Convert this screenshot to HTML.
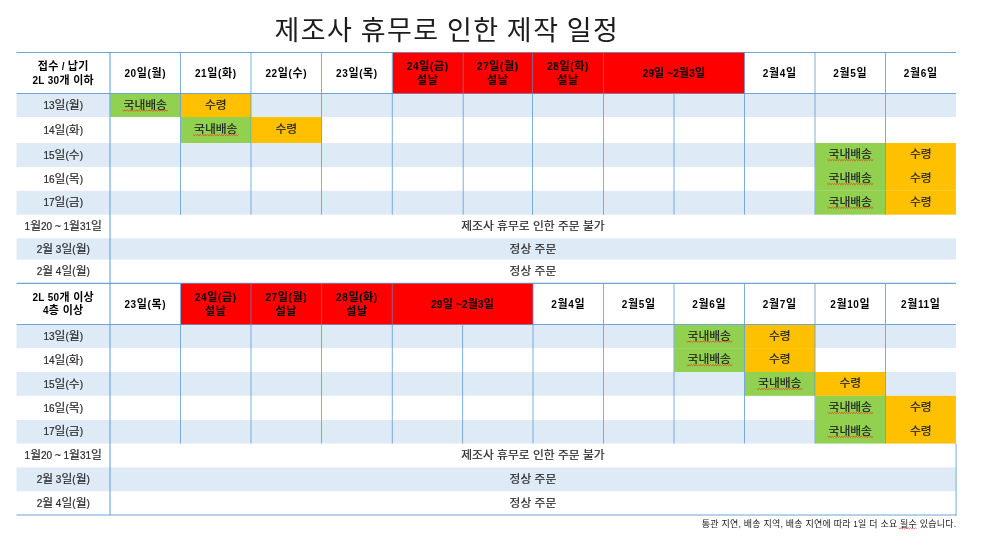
<!DOCTYPE html>
<html lang="ko"><head><meta charset="utf-8"><title>제조사 휴무로 인한 제작 일정</title>
<style>
html,body{margin:0;padding:0;background:#fff;}
body{width:1000px;height:559px;position:relative;overflow:hidden;font-family:"Liberation Sans","Noto Sans CJK KR","NanumGothic",sans-serif;color:#222;}
#pg div{position:absolute;}
#g{position:absolute;left:0;top:0;}
.t{display:flex;align-items:center;justify-content:center;text-align:center;white-space:nowrap;}
.t i{font-style:normal;}
.hdr{font-weight:bold;font-size:11px;line-height:13.7px;color:#000;letter-spacing:.6px;}
.h0{letter-spacing:.3px;}
.hdr span{position:relative;top:.5px;}
.two span{top:.9px;}
.mg{letter-spacing:.15px;}
.hdr i{font-size:10px;}
.lab{font-size:11.8px;color:#2a2a2a;-webkit-text-stroke:.2px #2a2a2a;}
.lab i{font-size:10px;}
.cell{font-size:11.8px;color:#222;-webkit-text-stroke:.2px #222;}
.cell span{position:relative;top:-2.5px;}
.lab span{position:relative;top:-1.9px;}
.sq{text-decoration:underline;text-decoration-color:#e0402a;text-decoration-thickness:1px;text-underline-offset:2px;}
#title{position:absolute;left:274.5px;top:11px;font-size:27px;line-height:40px;letter-spacing:1.45px;word-spacing:-1.6px;color:#1c1c1c;white-space:nowrap;}
#foot{position:absolute;right:43.6px;top:518px;font-size:9px;line-height:12px;letter-spacing:.2px;color:#222;white-space:nowrap;}
#foot i{font-style:normal;font-size:8.2px;}
</style></head><body>
<div id="pg">
<svg id="g" width="1000" height="559" viewBox="0 0 1000 559">
<rect x="16.50" y="94.00" width="939.40" height="23.00" fill="#deeaf6"/>
<rect x="16.50" y="143.00" width="939.40" height="24.00" fill="#deeaf6"/>
<rect x="16.50" y="190.80" width="939.40" height="23.80" fill="#deeaf6"/>
<rect x="16.50" y="238.30" width="939.40" height="21.30" fill="#deeaf6"/>
<rect x="110.30" y="94.00" width="70.20" height="23.00" fill="#92d050"/>
<rect x="180.80" y="94.00" width="70.20" height="23.00" fill="#ffc000"/>
<rect x="180.80" y="117.00" width="70.20" height="26.00" fill="#92d050"/>
<rect x="251.30" y="117.00" width="70.20" height="26.00" fill="#ffc000"/>
<rect x="815.30" y="143.00" width="70.20" height="24.00" fill="#92d050"/>
<rect x="885.80" y="143.00" width="70.10" height="24.00" fill="#ffc000"/>
<rect x="815.30" y="167.00" width="70.20" height="23.80" fill="#92d050"/>
<rect x="885.80" y="167.00" width="70.10" height="23.80" fill="#ffc000"/>
<rect x="815.30" y="190.80" width="70.20" height="23.80" fill="#92d050"/>
<rect x="885.80" y="190.80" width="70.10" height="23.80" fill="#ffc000"/>
<rect x="16.50" y="325.00" width="939.40" height="23.10" fill="#deeaf6"/>
<rect x="16.50" y="372.00" width="939.40" height="23.80" fill="#deeaf6"/>
<rect x="16.50" y="420.00" width="939.40" height="23.50" fill="#deeaf6"/>
<rect x="16.50" y="467.40" width="939.40" height="23.90" fill="#deeaf6"/>
<rect x="674.30" y="325.00" width="70.20" height="23.10" fill="#92d050"/>
<rect x="744.80" y="325.00" width="70.20" height="23.10" fill="#ffc000"/>
<rect x="674.30" y="348.10" width="70.20" height="23.90" fill="#92d050"/>
<rect x="744.80" y="348.10" width="70.20" height="23.90" fill="#ffc000"/>
<rect x="744.80" y="372.00" width="70.20" height="23.80" fill="#92d050"/>
<rect x="815.30" y="372.00" width="70.20" height="23.80" fill="#ffc000"/>
<rect x="815.30" y="395.80" width="70.20" height="24.20" fill="#92d050"/>
<rect x="885.80" y="395.80" width="70.10" height="24.20" fill="#ffc000"/>
<rect x="815.30" y="420.00" width="70.20" height="23.50" fill="#92d050"/>
<rect x="885.80" y="420.00" width="70.10" height="23.50" fill="#ffc000"/>
<line x1="16.50" y1="52.50" x2="955.90" y2="52.50" stroke="#5b9bd5" stroke-width="1.15" stroke-opacity="0.9"/>
<line x1="16.50" y1="93.50" x2="955.90" y2="93.50" stroke="#5b9bd5" stroke-width="1.15" stroke-opacity="0.9"/>
<rect x="392.70" y="52.75" width="351.80" height="40.55" fill="#ff0000"/>
<line x1="180.50" y1="52.50" x2="180.50" y2="214.60" stroke="#5b9bd5" stroke-width="1.0" stroke-opacity="0.8"/>
<line x1="251.00" y1="52.50" x2="251.00" y2="214.60" stroke="#5b9bd5" stroke-width="1.0" stroke-opacity="0.8"/>
<line x1="321.50" y1="52.50" x2="321.50" y2="214.60" stroke="#5b9bd5" stroke-width="1.0" stroke-opacity="0.8"/>
<line x1="392.30" y1="52.50" x2="392.30" y2="214.60" stroke="#5b9bd5" stroke-width="1.0" stroke-opacity="0.8"/>
<line x1="463.20" y1="52.50" x2="463.20" y2="93.50" stroke="#5b9bd5" stroke-width="0.8" stroke-opacity="0.75"/>
<line x1="463.20" y1="93.50" x2="463.20" y2="214.60" stroke="#5b9bd5" stroke-width="1.0" stroke-opacity="0.8"/>
<line x1="532.50" y1="52.50" x2="532.50" y2="93.50" stroke="#5b9bd5" stroke-width="0.8" stroke-opacity="0.75"/>
<line x1="532.50" y1="93.50" x2="532.50" y2="214.60" stroke="#5b9bd5" stroke-width="1.0" stroke-opacity="0.8"/>
<line x1="603.50" y1="52.50" x2="603.50" y2="93.50" stroke="#5b9bd5" stroke-width="0.8" stroke-opacity="0.75"/>
<line x1="603.50" y1="93.50" x2="603.50" y2="214.60" stroke="#5b9bd5" stroke-width="1.0" stroke-opacity="0.8"/>
<line x1="674.00" y1="93.50" x2="674.00" y2="214.60" stroke="#5b9bd5" stroke-width="1.0" stroke-opacity="0.8"/>
<line x1="744.50" y1="52.50" x2="744.50" y2="214.60" stroke="#5b9bd5" stroke-width="1.0" stroke-opacity="0.8"/>
<line x1="815.00" y1="52.50" x2="815.00" y2="214.60" stroke="#5b9bd5" stroke-width="1.0" stroke-opacity="0.8"/>
<line x1="885.50" y1="52.50" x2="885.50" y2="214.60" stroke="#5b9bd5" stroke-width="1.0" stroke-opacity="0.8"/>
<line x1="16.50" y1="283.40" x2="955.90" y2="283.40" stroke="#5b9bd5" stroke-width="1.15" stroke-opacity="0.9"/>
<line x1="16.50" y1="324.50" x2="955.90" y2="324.50" stroke="#5b9bd5" stroke-width="1.15" stroke-opacity="0.9"/>
<rect x="180.90" y="283.65" width="352.10" height="40.65" fill="#ff0000"/>
<line x1="180.50" y1="283.40" x2="180.50" y2="443.50" stroke="#5b9bd5" stroke-width="1.0" stroke-opacity="0.8"/>
<line x1="251.00" y1="283.40" x2="251.00" y2="324.50" stroke="#5b9bd5" stroke-width="0.8" stroke-opacity="0.75"/>
<line x1="251.00" y1="324.50" x2="251.00" y2="443.50" stroke="#5b9bd5" stroke-width="1.0" stroke-opacity="0.8"/>
<line x1="321.50" y1="283.40" x2="321.50" y2="324.50" stroke="#5b9bd5" stroke-width="0.8" stroke-opacity="0.75"/>
<line x1="321.50" y1="324.50" x2="321.50" y2="443.50" stroke="#5b9bd5" stroke-width="1.0" stroke-opacity="0.8"/>
<line x1="392.30" y1="283.40" x2="392.30" y2="324.50" stroke="#5b9bd5" stroke-width="0.8" stroke-opacity="0.75"/>
<line x1="392.30" y1="324.50" x2="392.30" y2="443.50" stroke="#5b9bd5" stroke-width="1.0" stroke-opacity="0.8"/>
<line x1="462.60" y1="324.50" x2="462.60" y2="443.50" stroke="#5b9bd5" stroke-width="1.0" stroke-opacity="0.8"/>
<line x1="533.00" y1="283.40" x2="533.00" y2="443.50" stroke="#5b9bd5" stroke-width="1.0" stroke-opacity="0.8"/>
<line x1="603.50" y1="283.40" x2="603.50" y2="443.50" stroke="#5b9bd5" stroke-width="1.0" stroke-opacity="0.8"/>
<line x1="674.00" y1="283.40" x2="674.00" y2="443.50" stroke="#5b9bd5" stroke-width="1.0" stroke-opacity="0.8"/>
<line x1="744.50" y1="283.40" x2="744.50" y2="443.50" stroke="#5b9bd5" stroke-width="1.0" stroke-opacity="0.8"/>
<line x1="815.00" y1="283.40" x2="815.00" y2="443.50" stroke="#5b9bd5" stroke-width="1.0" stroke-opacity="0.8"/>
<line x1="885.50" y1="283.40" x2="885.50" y2="443.50" stroke="#5b9bd5" stroke-width="1.0" stroke-opacity="0.8"/>
<line x1="110.00" y1="52.50" x2="110.00" y2="515.00" stroke="#5b9bd5" stroke-width="2.0" stroke-opacity="0.5"/>
<line x1="16.50" y1="515.00" x2="956.50" y2="515.00" stroke="#5b9bd5" stroke-width="1.2" stroke-opacity="0.9"/>
<line x1="956.10" y1="443.50" x2="956.10" y2="515.40" stroke="#5b9bd5" stroke-width="1.2" stroke-opacity="0.7"/>
<polyline points="122.55,110.05 123.75,111.15 124.95,110.05 126.15,111.15 127.35,110.05 128.55,111.15 129.75,110.05 130.95,111.15 132.15,110.05 133.35,111.15 134.55,110.05 135.75,111.15 136.95,110.05 138.15,111.15 139.35,110.05 140.55,111.15 141.75,110.05 142.95,111.15 144.15,110.05 145.35,111.15 146.55,110.05 147.75,111.15 148.95,110.05 150.15,111.15 151.35,110.05 152.55,111.15 153.75,110.05 154.95,111.15 156.15,110.05 157.35,111.15 158.55,110.05 159.75,111.15 160.95,110.05 162.15,111.15 163.35,110.05 164.55,111.15 165.75,110.05 166.95,111.15 168.15,110.05" fill="none" stroke="#e0502a" stroke-width="1.0" stroke-linejoin="round"/>
<polyline points="193.05,134.55 194.25,135.65 195.45,134.55 196.65,135.65 197.85,134.55 199.05,135.65 200.25,134.55 201.45,135.65 202.65,134.55 203.85,135.65 205.05,134.55 206.25,135.65 207.45,134.55 208.65,135.65 209.85,134.55 211.05,135.65 212.25,134.55 213.45,135.65 214.65,134.55 215.85,135.65 217.05,134.55 218.25,135.65 219.45,134.55 220.65,135.65 221.85,134.55 223.05,135.65 224.25,134.55 225.45,135.65 226.65,134.55 227.85,135.65 229.05,134.55 230.25,135.65 231.45,134.55 232.65,135.65 233.85,134.55 235.05,135.65 236.25,134.55 237.45,135.65 238.65,134.55" fill="none" stroke="#e0502a" stroke-width="1.0" stroke-linejoin="round"/>
<polyline points="827.55,159.55 828.75,160.65 829.95,159.55 831.15,160.65 832.35,159.55 833.55,160.65 834.75,159.55 835.95,160.65 837.15,159.55 838.35,160.65 839.55,159.55 840.75,160.65 841.95,159.55 843.15,160.65 844.35,159.55 845.55,160.65 846.75,159.55 847.95,160.65 849.15,159.55 850.35,160.65 851.55,159.55 852.75,160.65 853.95,159.55 855.15,160.65 856.35,159.55 857.55,160.65 858.75,159.55 859.95,160.65 861.15,159.55 862.35,160.65 863.55,159.55 864.75,160.65 865.95,159.55 867.15,160.65 868.35,159.55 869.55,160.65 870.75,159.55 871.95,160.65 873.15,159.55" fill="none" stroke="#e0502a" stroke-width="1.0" stroke-linejoin="round"/>
<polyline points="827.55,183.45 828.75,184.55 829.95,183.45 831.15,184.55 832.35,183.45 833.55,184.55 834.75,183.45 835.95,184.55 837.15,183.45 838.35,184.55 839.55,183.45 840.75,184.55 841.95,183.45 843.15,184.55 844.35,183.45 845.55,184.55 846.75,183.45 847.95,184.55 849.15,183.45 850.35,184.55 851.55,183.45 852.75,184.55 853.95,183.45 855.15,184.55 856.35,183.45 857.55,184.55 858.75,183.45 859.95,184.55 861.15,183.45 862.35,184.55 863.55,183.45 864.75,184.55 865.95,183.45 867.15,184.55 868.35,183.45 869.55,184.55 870.75,183.45 871.95,184.55 873.15,183.45" fill="none" stroke="#e0502a" stroke-width="1.0" stroke-linejoin="round"/>
<polyline points="827.55,207.25 828.75,208.35 829.95,207.25 831.15,208.35 832.35,207.25 833.55,208.35 834.75,207.25 835.95,208.35 837.15,207.25 838.35,208.35 839.55,207.25 840.75,208.35 841.95,207.25 843.15,208.35 844.35,207.25 845.55,208.35 846.75,207.25 847.95,208.35 849.15,207.25 850.35,208.35 851.55,207.25 852.75,208.35 853.95,207.25 855.15,208.35 856.35,207.25 857.55,208.35 858.75,207.25 859.95,208.35 861.15,207.25 862.35,208.35 863.55,207.25 864.75,208.35 865.95,207.25 867.15,208.35 868.35,207.25 869.55,208.35 870.75,207.25 871.95,208.35 873.15,207.25" fill="none" stroke="#e0502a" stroke-width="1.0" stroke-linejoin="round"/>
<polyline points="686.55,341.10 687.75,342.20 688.95,341.10 690.15,342.20 691.35,341.10 692.55,342.20 693.75,341.10 694.95,342.20 696.15,341.10 697.35,342.20 698.55,341.10 699.75,342.20 700.95,341.10 702.15,342.20 703.35,341.10 704.55,342.20 705.75,341.10 706.95,342.20 708.15,341.10 709.35,342.20 710.55,341.10 711.75,342.20 712.95,341.10 714.15,342.20 715.35,341.10 716.55,342.20 717.75,341.10 718.95,342.20 720.15,341.10 721.35,342.20 722.55,341.10 723.75,342.20 724.95,341.10 726.15,342.20 727.35,341.10 728.55,342.20 729.75,341.10 730.95,342.20 732.15,341.10" fill="none" stroke="#e0502a" stroke-width="1.0" stroke-linejoin="round"/>
<polyline points="686.55,364.60 687.75,365.70 688.95,364.60 690.15,365.70 691.35,364.60 692.55,365.70 693.75,364.60 694.95,365.70 696.15,364.60 697.35,365.70 698.55,364.60 699.75,365.70 700.95,364.60 702.15,365.70 703.35,364.60 704.55,365.70 705.75,364.60 706.95,365.70 708.15,364.60 709.35,365.70 710.55,364.60 711.75,365.70 712.95,364.60 714.15,365.70 715.35,364.60 716.55,365.70 717.75,364.60 718.95,365.70 720.15,364.60 721.35,365.70 722.55,364.60 723.75,365.70 724.95,364.60 726.15,365.70 727.35,364.60 728.55,365.70 729.75,364.60 730.95,365.70 732.15,364.60" fill="none" stroke="#e0502a" stroke-width="1.0" stroke-linejoin="round"/>
<polyline points="757.05,388.45 758.25,389.55 759.45,388.45 760.65,389.55 761.85,388.45 763.05,389.55 764.25,388.45 765.45,389.55 766.65,388.45 767.85,389.55 769.05,388.45 770.25,389.55 771.45,388.45 772.65,389.55 773.85,388.45 775.05,389.55 776.25,388.45 777.45,389.55 778.65,388.45 779.85,389.55 781.05,388.45 782.25,389.55 783.45,388.45 784.65,389.55 785.85,388.45 787.05,389.55 788.25,388.45 789.45,389.55 790.65,388.45 791.85,389.55 793.05,388.45 794.25,389.55 795.45,388.45 796.65,389.55 797.85,388.45 799.05,389.55 800.25,388.45 801.45,389.55 802.65,388.45" fill="none" stroke="#e0502a" stroke-width="1.0" stroke-linejoin="round"/>
<polyline points="827.55,412.45 828.75,413.55 829.95,412.45 831.15,413.55 832.35,412.45 833.55,413.55 834.75,412.45 835.95,413.55 837.15,412.45 838.35,413.55 839.55,412.45 840.75,413.55 841.95,412.45 843.15,413.55 844.35,412.45 845.55,413.55 846.75,412.45 847.95,413.55 849.15,412.45 850.35,413.55 851.55,412.45 852.75,413.55 853.95,412.45 855.15,413.55 856.35,412.45 857.55,413.55 858.75,412.45 859.95,413.55 861.15,412.45 862.35,413.55 863.55,412.45 864.75,413.55 865.95,412.45 867.15,413.55 868.35,412.45 869.55,413.55 870.75,412.45 871.95,413.55 873.15,412.45" fill="none" stroke="#e0502a" stroke-width="1.0" stroke-linejoin="round"/>
<polyline points="827.55,436.30 828.75,437.40 829.95,436.30 831.15,437.40 832.35,436.30 833.55,437.40 834.75,436.30 835.95,437.40 837.15,436.30 838.35,437.40 839.55,436.30 840.75,437.40 841.95,436.30 843.15,437.40 844.35,436.30 845.55,437.40 846.75,436.30 847.95,437.40 849.15,436.30 850.35,437.40 851.55,436.30 852.75,437.40 853.95,436.30 855.15,437.40 856.35,436.30 857.55,437.40 858.75,436.30 859.95,437.40 861.15,436.30 862.35,437.40 863.55,436.30 864.75,437.40 865.95,436.30 867.15,437.40 868.35,436.30 869.55,437.40 870.75,436.30 871.95,437.40 873.15,436.30" fill="none" stroke="#e0502a" stroke-width="1.0" stroke-linejoin="round"/>
<polyline points="898.60,527.75 899.80,528.85 901.00,527.75 902.20,528.85 903.40,527.75 904.60,528.85 905.80,527.75 907.00,528.85 908.20,527.75 909.40,528.85 910.60,527.75 911.80,528.85 913.00,527.75 914.20,528.85 915.40,527.75 916.60,528.85" fill="none" stroke="#e8413a" stroke-width="0.8" stroke-linejoin="round"/>
</svg>
<div id="title">제조사 휴무로 인한 제작 일정</div>
<div class="t cell" style="left:110.00px;top:94.00px;width:70.50px;height:23.00px;"><span>국내배송</span></div>
<div class="t cell" style="left:180.50px;top:94.00px;width:70.50px;height:23.00px;"><span>수령</span></div>
<div class="t cell" style="left:180.50px;top:117.00px;width:70.50px;height:26.00px;"><span>국내배송</span></div>
<div class="t cell" style="left:251.00px;top:117.00px;width:70.50px;height:26.00px;"><span>수령</span></div>
<div class="t cell" style="left:815.00px;top:143.00px;width:70.50px;height:24.00px;"><span>국내배송</span></div>
<div class="t cell" style="left:885.50px;top:143.00px;width:70.50px;height:24.00px;"><span>수령</span></div>
<div class="t cell" style="left:815.00px;top:167.00px;width:70.50px;height:23.80px;"><span>국내배송</span></div>
<div class="t cell" style="left:885.50px;top:167.00px;width:70.50px;height:23.80px;"><span>수령</span></div>
<div class="t cell" style="left:815.00px;top:190.80px;width:70.50px;height:23.80px;"><span>국내배송</span></div>
<div class="t cell" style="left:885.50px;top:190.80px;width:70.50px;height:23.80px;"><span>수령</span></div>
<div class="t hdr h0" style="left:16.50px;top:52.50px;width:93.50px;height:41.00px;"><span>접수<i> / </i>납기<br><i>2L 30</i>개 이하</span></div>
<div class="t hdr" style="left:110.00px;top:52.50px;width:70.50px;height:41.00px;"><span><i>20</i>일<i>(</i>월<i>)</i></span></div>
<div class="t hdr" style="left:180.50px;top:52.50px;width:70.50px;height:41.00px;"><span><i>21</i>일<i>(</i>화<i>)</i></span></div>
<div class="t hdr" style="left:251.00px;top:52.50px;width:70.50px;height:41.00px;"><span><i>22</i>일<i>(</i>수<i>)</i></span></div>
<div class="t hdr" style="left:321.50px;top:52.50px;width:70.80px;height:41.00px;"><span><i>23</i>일<i>(</i>목<i>)</i></span></div>
<div class="t hdr two" style="left:392.30px;top:52.50px;width:70.90px;height:41.00px;"><span><i>24</i>일<i>(</i>금<i>)</i><br>설날</span></div>
<div class="t hdr two" style="left:463.20px;top:52.50px;width:69.30px;height:41.00px;"><span><i>27</i>일<i>(</i>월<i>)</i><br>설날</span></div>
<div class="t hdr two" style="left:532.50px;top:52.50px;width:71.00px;height:41.00px;"><span><i>28</i>일<i>(</i>화<i>)</i><br>설날</span></div>
<div class="t hdr mg" style="left:603.50px;top:52.50px;width:141.00px;height:41.00px;"><span><i>29</i>일<i> ~2</i>월<i>3</i>일</span></div>
<div class="t hdr" style="left:744.50px;top:52.50px;width:70.50px;height:41.00px;"><span><i>2</i>월<i>4</i>일</span></div>
<div class="t hdr" style="left:815.00px;top:52.50px;width:70.50px;height:41.00px;"><span><i>2</i>월<i>5</i>일</span></div>
<div class="t hdr" style="left:885.50px;top:52.50px;width:70.50px;height:41.00px;"><span><i>2</i>월<i>6</i>일</span></div>
<div class="t lab" style="left:16.50px;top:94.00px;width:93.50px;height:23.00px;"><span><i>13</i>일<i>(</i>월<i>)</i></span></div>
<div class="t lab" style="left:16.50px;top:117.00px;width:93.50px;height:26.00px;"><span><i>14</i>일<i>(</i>화<i>)</i></span></div>
<div class="t lab" style="left:16.50px;top:143.00px;width:93.50px;height:24.00px;"><span><i>15</i>일<i>(</i>수<i>)</i></span></div>
<div class="t lab" style="left:16.50px;top:167.00px;width:93.50px;height:23.80px;"><span><i>16</i>일<i>(</i>목<i>)</i></span></div>
<div class="t lab" style="left:16.50px;top:190.80px;width:93.50px;height:23.80px;"><span><i>17</i>일<i>(</i>금<i>)</i></span></div>
<div class="t lab" style="left:16.50px;top:214.60px;width:93.50px;height:23.70px;"><span><i>1</i>월<i>20 ~ 1</i>월<i>31</i>일</span></div>
<div class="t lab" style="left:16.50px;top:238.30px;width:93.50px;height:21.30px;"><span><i>2</i>월<i> 3</i>일<i>(</i>월<i>)</i></span></div>
<div class="t lab" style="left:16.50px;top:259.60px;width:93.50px;height:23.40px;"><span><i>2</i>월<i> 4</i>일<i>(</i>월<i>)</i></span></div>
<div class="t lab" style="left:110.00px;top:214.60px;width:845.90px;height:23.70px;"><span>제조사 휴무로 인한 주문 불가</span></div>
<div class="t lab" style="left:110.00px;top:238.30px;width:845.90px;height:21.30px;"><span>정상 주문</span></div>
<div class="t lab" style="left:110.00px;top:259.60px;width:845.90px;height:23.40px;"><span>정상 주문</span></div>
<div class="t cell" style="left:674.00px;top:325.00px;width:70.50px;height:23.10px;"><span>국내배송</span></div>
<div class="t cell" style="left:744.50px;top:325.00px;width:70.50px;height:23.10px;"><span>수령</span></div>
<div class="t cell" style="left:674.00px;top:348.10px;width:70.50px;height:23.90px;"><span>국내배송</span></div>
<div class="t cell" style="left:744.50px;top:348.10px;width:70.50px;height:23.90px;"><span>수령</span></div>
<div class="t cell" style="left:744.50px;top:372.00px;width:70.50px;height:23.80px;"><span>국내배송</span></div>
<div class="t cell" style="left:815.00px;top:372.00px;width:70.50px;height:23.80px;"><span>수령</span></div>
<div class="t cell" style="left:815.00px;top:395.80px;width:70.50px;height:24.20px;"><span>국내배송</span></div>
<div class="t cell" style="left:885.50px;top:395.80px;width:70.50px;height:24.20px;"><span>수령</span></div>
<div class="t cell" style="left:815.00px;top:420.00px;width:70.50px;height:23.50px;"><span>국내배송</span></div>
<div class="t cell" style="left:885.50px;top:420.00px;width:70.50px;height:23.50px;"><span>수령</span></div>
<div class="t hdr h0" style="left:16.50px;top:283.40px;width:93.50px;height:41.10px;"><span><i>2L 50</i>개 이상<br><i>4</i>층 이상</span></div>
<div class="t hdr" style="left:110.00px;top:283.40px;width:70.50px;height:41.10px;"><span><i>23</i>일<i>(</i>목<i>)</i></span></div>
<div class="t hdr two" style="left:180.50px;top:283.40px;width:70.50px;height:41.10px;"><span><i>24</i>일<i>(</i>금<i>)</i><br>설날</span></div>
<div class="t hdr two" style="left:251.00px;top:283.40px;width:70.50px;height:41.10px;"><span><i>27</i>일<i>(</i>월<i>)</i><br>설날</span></div>
<div class="t hdr two" style="left:321.50px;top:283.40px;width:70.80px;height:41.10px;"><span><i>28</i>일<i>(</i>화<i>)</i><br>설날</span></div>
<div class="t hdr mg" style="left:392.30px;top:283.40px;width:140.70px;height:41.10px;"><span><i>29</i>일<i> ~2</i>월<i>3</i>일</span></div>
<div class="t hdr" style="left:533.00px;top:283.40px;width:70.50px;height:41.10px;"><span><i>2</i>월<i>4</i>일</span></div>
<div class="t hdr" style="left:603.50px;top:283.40px;width:70.50px;height:41.10px;"><span><i>2</i>월<i>5</i>일</span></div>
<div class="t hdr" style="left:674.00px;top:283.40px;width:70.50px;height:41.10px;"><span><i>2</i>월<i>6</i>일</span></div>
<div class="t hdr" style="left:744.50px;top:283.40px;width:70.50px;height:41.10px;"><span><i>2</i>월<i>7</i>일</span></div>
<div class="t hdr" style="left:815.00px;top:283.40px;width:70.50px;height:41.10px;"><span><i>2</i>월<i>10</i>일</span></div>
<div class="t hdr" style="left:885.50px;top:283.40px;width:70.50px;height:41.10px;"><span><i>2</i>월<i>11</i>일</span></div>
<div class="t lab" style="left:16.50px;top:325.00px;width:93.50px;height:23.10px;"><span><i>13</i>일<i>(</i>월<i>)</i></span></div>
<div class="t lab" style="left:16.50px;top:348.10px;width:93.50px;height:23.90px;"><span><i>14</i>일<i>(</i>화<i>)</i></span></div>
<div class="t lab" style="left:16.50px;top:372.00px;width:93.50px;height:23.80px;"><span><i>15</i>일<i>(</i>수<i>)</i></span></div>
<div class="t lab" style="left:16.50px;top:395.80px;width:93.50px;height:24.20px;"><span><i>16</i>일<i>(</i>목<i>)</i></span></div>
<div class="t lab" style="left:16.50px;top:420.00px;width:93.50px;height:23.50px;"><span><i>17</i>일<i>(</i>금<i>)</i></span></div>
<div class="t lab" style="left:16.50px;top:443.50px;width:93.50px;height:23.90px;"><span><i>1</i>월<i>20 ~ 1</i>월<i>31</i>일</span></div>
<div class="t lab" style="left:16.50px;top:467.40px;width:93.50px;height:23.90px;"><span><i>2</i>월<i> 3</i>일<i>(</i>월<i>)</i></span></div>
<div class="t lab" style="left:16.50px;top:491.30px;width:93.50px;height:23.70px;"><span><i>2</i>월<i> 4</i>일<i>(</i>월<i>)</i></span></div>
<div class="t lab" style="left:110.00px;top:443.50px;width:845.90px;height:23.90px;"><span>제조사 휴무로 인한 주문 불가</span></div>
<div class="t lab" style="left:110.00px;top:467.40px;width:845.90px;height:23.90px;"><span>정상 주문</span></div>
<div class="t lab" style="left:110.00px;top:491.30px;width:845.90px;height:23.70px;"><span>정상 주문</span></div>
<div id="foot">통관 지연, 배송 지역, 배송 지연에 따라 <i>1</i>일 더 소요 될수 있습니다.</div>
</div>
</body></html>
